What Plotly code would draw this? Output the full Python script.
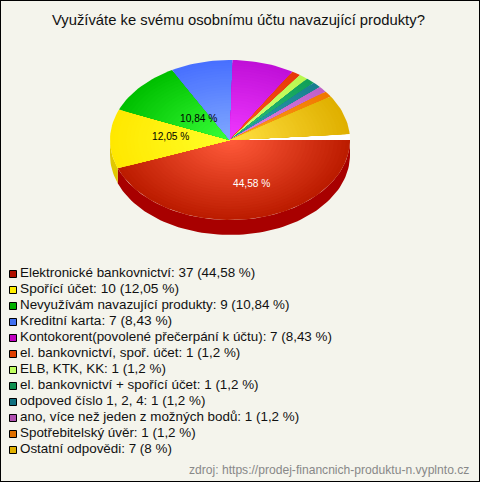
import math
import plotly.graph_objects as go

title = "Využíváte ke svému osobnímu účtu navazující produkty?"
source = "zdroj: https://prodej-financnich-produktu-n.vyplnto.cz"
categories = ["Elektronické bankovnictví", "Spořící účet", "Nevyužívám navazující produkty",
              "Kreditní karta", "Kontokorent(povolené přečerpání k účtu)", "el. bankovnictví, spoř. účet",
              "ELB, KTK, KK", "el. bankovnictví + spořící účet", "odpoved číslo 1, 2, 4",
              "ano, více než jeden z možných bodů", "Spotřebitelský úvěr", "Ostatní odpovědi"]
counts = [37, 10, 9, 7, 7, 1, 1, 1, 1, 1, 1, 7]
percents = [44.58, 12.05, 10.84, 8.43, 8.43, 1.2, 1.2, 1.2, 1.2, 1.2, 1.2, 8]
legend_colors = ["#B01000", "#FFEE00", "#00B000", "#4070F0", "#C000C0", "#E04000",
                 "#C0FF60", "#109050", "#107080", "#B050B0", "#E07000", "#E0B000"]
edge_colors = ["#BC1C00", "#FFE800", "#00C000", "#4870FF", "#C010D8", "#E83808",
               "#B8F850", "#10A058", "#188090", "#C060C8", "#F07800", "#E0B000"]
center_colors = ["#FF5A3A", "#FFFF28", "#38FF38", "#80A8FF", "#F038FF", "#FF5A20",
                 "#D8FF80", "#30C080", "#30A0B0", "#E088E8", "#FFA020", "#FFE040"]
side_colors = ["#A80000", "#E0C800", "#00A000", "#3050D0", "#A000A0", "#C03000",
               "#A0D840", "#008040", "#006070", "#904090", "#C06000", "#C09000"]
legend_font_sizes = [13.4, 13.7, 13.4, 13.7, 13.4, 13.4, 13.4, 13.4, 13.4, 13.4, 13.4, 13.4]
BG = "#F4F4EC"
CX, CY, RX, RY, DEPTH = 230, 140, 120, 80, 15
DEG_PER_PERCENT = 3.574
RINGS = 30

def fmt(p):
    return f"{p:g}".replace(".", ",") + " %"

def hex2rgb(h):
    return [int(h[i:i + 2], 16) for i in (1, 3, 5)]

def mix(a, b, t):
    a, b = hex2rgb(a), hex2rgb(b)
    return "rgb(%d,%d,%d)" % tuple(round(a[i] + (b[i] - a[i]) * t) for i in range(3))

def arc(a0, a1, scale=1.0, dy=0):
    n = max(2, int(abs(a1 - a0) / 2) + 2)
    xs, ys = [], []
    for i in range(n):
        a = math.radians(a0 + (a1 - a0) * i / (n - 1))
        xs.append(CX + RX * scale * math.cos(a))
        ys.append(CY + dy + RY * scale * math.sin(a))
    return xs, ys

fig = go.Figure()

def poly(xs, ys, color):
    fig.add_trace(go.Scatter(x=xs, y=ys, mode="lines", fill="toself", fillcolor=color,
                             line=dict(width=0), hoverinfo="skip", showlegend=False))

# wedge angles, clockwise from east
angles = []
acc = 0.0
for p in percents:
    a0 = acc * DEG_PER_PERCENT
    acc += p
    angles.append((a0, acc * DEG_PER_PERCENT))

# side walls
for (a0, a1), col in zip(angles, side_colors):
    lo, hi = max(a0, 0), min(a1, 180)
    if hi > lo:
        tx, ty = arc(lo, hi)
        bx, by = arc(hi, lo, dy=DEPTH)
        poly(tx + bx, ty + by, col)

# white gap left where the rounded shares do not reach the full circle
gx, gy = arc(angles[-1][1], 360)
poly([CX] + gx + [CX], [CY] + gy + [CY], "#FFFFFF")

# top faces, radial shading from rim to centre
for (a0, a1), ec, cc in zip(angles, edge_colors, center_colors):
    for k in range(RINGS):
        s = 1 - k / RINGS
        xs, ys = arc(a0, a1, scale=s)
        poly([CX] + xs + [CX], [CY] + ys + [CY], mix(ec, cc, k / (RINGS - 1)))

# legend
LEG_Y0, LEG_DY = 274, 16
rows = [LEG_Y0 + i * LEG_DY for i in range(len(categories))]
fig.add_trace(go.Scatter(x=[13] * len(rows), y=rows, mode="markers",
                         marker=dict(symbol="square", size=7, color=legend_colors,
                                     line=dict(color="#000000", width=1)),
                         hoverinfo="skip", showlegend=False))
fig.add_trace(go.Scatter(x=[20] * len(rows), y=rows, mode="text",
                         text=[f"{n}: {c} ({fmt(p)})" for n, c, p in zip(categories, counts, percents)],
                         textposition="middle right",
                         textfont=dict(family="Liberation Sans", size=legend_font_sizes, color="#111111"),
                         hoverinfo="skip", showlegend=False))

annots = [
    dict(x=238, y=20, text=title, font=dict(size=14.8, color="#111111")),
    dict(x=251, y=183, text=fmt(percents[0]), font=dict(size=10.2, color="#FFFFFF")),
    dict(x=170.5, y=136, text=fmt(percents[1]), font=dict(size=10.2, color="#000000")),
    dict(x=198, y=118, text=fmt(percents[2]), font=dict(size=10.2, color="#000000")),
    dict(x=471, y=470, text=source, xanchor="right", font=dict(size=12.1, color="#888888")),
]
for a in annots:
    a.setdefault("xanchor", "center")
    a["font"]["family"] = "Liberation Sans"
    a.update(xref="x", yref="y", yanchor="middle", showarrow=False)

fig.update_layout(
    width=480, height=482, margin=dict(l=0, r=0, t=0, b=0), autosize=False,
    paper_bgcolor=BG, plot_bgcolor=BG, annotations=annots,
    xaxis=dict(range=[0, 480], visible=False, fixedrange=True),
    yaxis=dict(range=[482, 0], visible=False, fixedrange=True),
    shapes=[dict(type="rect", xref="paper", yref="paper", x0=0, y0=0, x1=1, y1=1,
                 line=dict(color="#000000", width=2), fillcolor="rgba(0,0,0,0)")],
)
html_style = "<style>html,body{margin:0;padding:0;overflow:hidden}</style>"
fig.write_html("out.html", config={"displayModeBar": False}, include_plotlyjs=True, full_html=True)
page = open("out.html", encoding="utf-8").read().replace("<head>", "<head>" + html_style, 1)
open("out.html", "w", encoding="utf-8").write(page)
